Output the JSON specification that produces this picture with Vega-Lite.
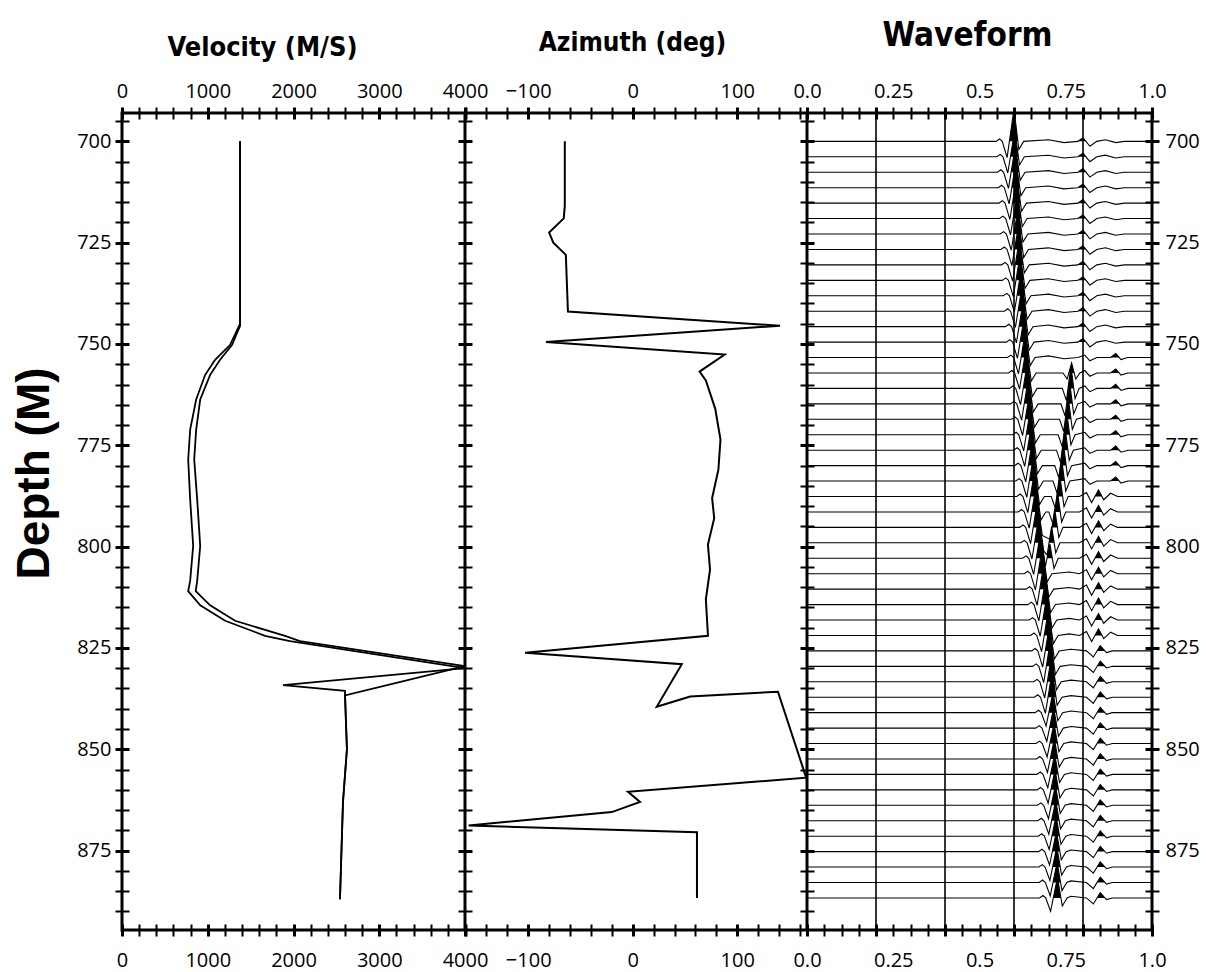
{
  "$schema": "https://vega.github.io/schema/vega-lite/v6.json",
  "width": 1030,
  "height": 817,
  "autosize": {"type": "none"},
  "padding": {"left": 122, "top": 113, "right": 54, "bottom": 42},
  "background": "white",
  "config": {
    "view": {"stroke": "black", "strokeWidth": 3},
    "axis": {
      "labelFont": "Open Sans",
      "labelFontSize": 20,
      "labelColor": "black",
      "tickColor": "black",
      "domainColor": "black",
      "titleColor": "black",
      "grid": false,
      "labelOverlap": false,
      "labelFlush": false
    }
  },
  "datasets": {
    "velocity": [
      {"c":"a","i":0,"v":1377,"z":700},{"c":"a","i":1,"v":1377,"z":745},{"c":"a","i":2,"v":1261,"z":750.2},{"c":"a","i":3,"v":1086,"z":753.9},{"c":"a","i":4,"v":970,"z":757.6},{"c":"a","i":5,"v":865,"z":763.7},{"c":"a","i":6,"v":795,"z":771.1},{"c":"a","i":7,"v":772,"z":778.5},{"c":"a","i":8,"v":795,"z":788.4},{"c":"a","i":9,"v":830,"z":799.8},{"c":"a","i":10,"v":795,"z":808.4},{"c":"a","i":11,"v":772,"z":811},{"c":"a","i":12,"v":912,"z":814.5},{"c":"a","i":13,"v":1203,"z":818.3},{"c":"a","i":14,"v":1668,"z":822},{"c":"a","i":15,"v":1959,"z":823.3},{"c":"a","i":16,"v":4000,"z":830},{"c":"a","i":17,"v":1878,"z":834.2},{"c":"a","i":18,"v":2600,"z":835.6},{"c":"a","i":19,"v":2623,"z":850},{"c":"a","i":20,"v":2577,"z":863},{"c":"a","i":21,"v":2542,"z":887},
      {"c":"b","i":0,"v":1377,"z":700},{"c":"b","i":1,"v":1377,"z":745.5},{"c":"b","i":2,"v":1284,"z":750.2},{"c":"b","i":3,"v":1144,"z":753.9},{"c":"b","i":4,"v":1028,"z":757.6},{"c":"b","i":5,"v":912,"z":763.7},{"c":"b","i":6,"v":865,"z":771.1},{"c":"b","i":7,"v":842,"z":778.5},{"c":"b","i":8,"v":877,"z":788.4},{"c":"b","i":9,"v":912,"z":799.8},{"c":"b","i":10,"v":877,"z":808.4},{"c":"b","i":11,"v":860,"z":811},{"c":"b","i":12,"v":1028,"z":814.5},{"c":"b","i":13,"v":1319,"z":818.3},{"c":"b","i":14,"v":1901,"z":822},{"c":"b","i":15,"v":2075,"z":823.3},{"c":"b","i":16,"v":4000,"z":829.5},{"c":"b","i":17,"v":2600,"z":836.7},{"c":"b","i":18,"v":2623,"z":850},{"c":"b","i":19,"v":2577,"z":863},{"c":"b","i":20,"v":2542,"z":887}
    ],
    "azimuth": [
      {"i":0,"a":-65,"z":700},{"i":1,"a":-65,"z":716},{"i":2,"a":-66,"z":719},{"i":3,"a":-80,"z":722.5},{"i":4,"a":-76,"z":725},{"i":5,"a":-64,"z":728},{"i":6,"a":-62,"z":742},{"i":7,"a":141,"z":745.5},{"i":8,"a":-83,"z":749.5},{"i":9,"a":88,"z":752.6},{"i":10,"a":64,"z":756.8},{"i":11,"a":70,"z":759},{"i":12,"a":79,"z":766},{"i":13,"a":84,"z":773.6},{"i":14,"a":82,"z":781},{"i":15,"a":76,"z":788},{"i":16,"a":78,"z":793},{"i":17,"a":72,"z":799.5},{"i":18,"a":74,"z":805.7},{"i":19,"a":70,"z":813},{"i":20,"a":72,"z":822},{"i":21,"a":-103,"z":826.2},{"i":22,"a":47,"z":829},{"i":23,"a":23,"z":839.5},{"i":24,"a":55,"z":837},{"i":25,"a":139,"z":835.8},{"i":26,"a":166,"z":857},{"i":27,"a":-4.5,"z":860.5},{"i":28,"a":7,"z":863},{"i":29,"a":-20,"z":865.5},{"i":30,"a":-157,"z":868.8},{"i":31,"a":61.5,"z":870.5},{"i":32,"a":61.5,"z":886.7}
    ],
    "traces": [
      {"n":0,"t":0,"d":700},{"n":0,"t":0.548,"d":700},{"n":0,"t":0.558,"d":699.4},{"n":0,"t":0.566,"d":700},{"n":0,"t":0.58,"d":704},{"n":0,"t":0.6,"d":692},{"n":0,"t":0.614,"d":702},{"n":0,"t":0.628,"d":700},{"n":0,"t":0.7,"d":699.6},{"n":0,"t":0.745,"d":700.3},{"n":0,"t":0.785,"d":700},{"n":0,"t":0.8,"d":699.1},{"n":0,"t":0.82,"d":701.2},{"n":0,"t":0.84,"d":700},{"n":0,"t":0.865,"d":699.6},{"n":0,"t":0.895,"d":700.3},{"n":0,"t":0.92,"d":700},{"n":0,"t":1,"d":700},
      {"n":1,"t":0,"d":703.81},{"n":1,"t":0.55,"d":703.81},{"n":1,"t":0.56,"d":703.21},{"n":1,"t":0.568,"d":703.81},{"n":1,"t":0.582,"d":707.81},{"n":1,"t":0.602,"d":697.31},{"n":1,"t":0.616,"d":705.81},{"n":1,"t":0.63,"d":703.81},{"n":1,"t":0.7,"d":703.41},{"n":1,"t":0.745,"d":704.11},{"n":1,"t":0.785,"d":703.81},{"n":1,"t":0.8,"d":702.91},{"n":1,"t":0.82,"d":705.01},{"n":1,"t":0.84,"d":703.81},{"n":1,"t":0.865,"d":703.41},{"n":1,"t":0.895,"d":704.11},{"n":1,"t":0.92,"d":703.81},{"n":1,"t":1,"d":703.81},
      {"n":2,"t":0,"d":707.62},{"n":2,"t":0.552,"d":707.62},{"n":2,"t":0.562,"d":707.02},{"n":2,"t":0.57,"d":707.62},{"n":2,"t":0.584,"d":711.62},{"n":2,"t":0.604,"d":701.12},{"n":2,"t":0.618,"d":709.62},{"n":2,"t":0.632,"d":707.62},{"n":2,"t":0.7,"d":707.22},{"n":2,"t":0.745,"d":707.92},{"n":2,"t":0.785,"d":707.62},{"n":2,"t":0.8,"d":706.72},{"n":2,"t":0.82,"d":708.82},{"n":2,"t":0.84,"d":707.62},{"n":2,"t":0.865,"d":707.22},{"n":2,"t":0.895,"d":707.92},{"n":2,"t":0.92,"d":707.62},{"n":2,"t":1,"d":707.62},
      {"n":3,"t":0,"d":711.43},{"n":3,"t":0.554,"d":711.43},{"n":3,"t":0.564,"d":710.83},{"n":3,"t":0.572,"d":711.43},{"n":3,"t":0.586,"d":715.43},{"n":3,"t":0.606,"d":704.93},{"n":3,"t":0.62,"d":713.43},{"n":3,"t":0.634,"d":711.43},{"n":3,"t":0.7,"d":711.03},{"n":3,"t":0.745,"d":711.73},{"n":3,"t":0.785,"d":711.43},{"n":3,"t":0.8,"d":710.53},{"n":3,"t":0.82,"d":712.63},{"n":3,"t":0.84,"d":711.43},{"n":3,"t":0.865,"d":711.03},{"n":3,"t":0.895,"d":711.73},{"n":3,"t":0.92,"d":711.43},{"n":3,"t":1,"d":711.43},
      {"n":4,"t":0,"d":715.24},{"n":4,"t":0.556,"d":715.24},{"n":4,"t":0.566,"d":714.64},{"n":4,"t":0.574,"d":715.24},{"n":4,"t":0.588,"d":719.24},{"n":4,"t":0.608,"d":708.74},{"n":4,"t":0.622,"d":717.24},{"n":4,"t":0.636,"d":715.24},{"n":4,"t":0.7,"d":714.84},{"n":4,"t":0.745,"d":715.54},{"n":4,"t":0.785,"d":715.24},{"n":4,"t":0.8,"d":714.34},{"n":4,"t":0.82,"d":716.44},{"n":4,"t":0.84,"d":715.24},{"n":4,"t":0.865,"d":714.84},{"n":4,"t":0.895,"d":715.54},{"n":4,"t":0.92,"d":715.24},{"n":4,"t":1,"d":715.24},
      {"n":5,"t":0,"d":719.05},{"n":5,"t":0.558,"d":719.05},{"n":5,"t":0.568,"d":718.45},{"n":5,"t":0.576,"d":719.05},{"n":5,"t":0.59,"d":723.05},{"n":5,"t":0.61,"d":712.55},{"n":5,"t":0.624,"d":721.05},{"n":5,"t":0.638,"d":719.05},{"n":5,"t":0.7,"d":718.65},{"n":5,"t":0.745,"d":719.35},{"n":5,"t":0.785,"d":719.05},{"n":5,"t":0.8,"d":718.15},{"n":5,"t":0.82,"d":720.25},{"n":5,"t":0.84,"d":719.05},{"n":5,"t":0.865,"d":718.65},{"n":5,"t":0.895,"d":719.35},{"n":5,"t":0.92,"d":719.05},{"n":5,"t":1,"d":719.05},
      {"n":6,"t":0,"d":722.86},{"n":6,"t":0.56,"d":722.86},{"n":6,"t":0.57,"d":722.26},{"n":6,"t":0.578,"d":722.86},{"n":6,"t":0.592,"d":726.86},{"n":6,"t":0.612,"d":716.36},{"n":6,"t":0.626,"d":724.86},{"n":6,"t":0.64,"d":722.86},{"n":6,"t":0.7,"d":722.46},{"n":6,"t":0.745,"d":723.16},{"n":6,"t":0.785,"d":722.86},{"n":6,"t":0.8,"d":721.96},{"n":6,"t":0.82,"d":724.06},{"n":6,"t":0.84,"d":722.86},{"n":6,"t":0.865,"d":722.46},{"n":6,"t":0.895,"d":723.16},{"n":6,"t":0.92,"d":722.86},{"n":6,"t":1,"d":722.86},
      {"n":7,"t":0,"d":726.67},{"n":7,"t":0.562,"d":726.67},{"n":7,"t":0.572,"d":726.07},{"n":7,"t":0.58,"d":726.67},{"n":7,"t":0.594,"d":730.67},{"n":7,"t":0.614,"d":720.17},{"n":7,"t":0.628,"d":728.67},{"n":7,"t":0.642,"d":726.67},{"n":7,"t":0.7,"d":726.27},{"n":7,"t":0.745,"d":726.97},{"n":7,"t":0.785,"d":726.67},{"n":7,"t":0.8,"d":725.77},{"n":7,"t":0.82,"d":727.87},{"n":7,"t":0.84,"d":726.67},{"n":7,"t":0.865,"d":726.27},{"n":7,"t":0.895,"d":726.97},{"n":7,"t":0.92,"d":726.67},{"n":7,"t":1,"d":726.67},
      {"n":8,"t":0,"d":730.48},{"n":8,"t":0.564,"d":730.48},{"n":8,"t":0.574,"d":729.88},{"n":8,"t":0.582,"d":730.48},{"n":8,"t":0.596,"d":734.48},{"n":8,"t":0.616,"d":723.98},{"n":8,"t":0.63,"d":732.48},{"n":8,"t":0.644,"d":730.48},{"n":8,"t":0.7,"d":730.08},{"n":8,"t":0.745,"d":730.78},{"n":8,"t":0.785,"d":730.48},{"n":8,"t":0.8,"d":729.58},{"n":8,"t":0.82,"d":731.68},{"n":8,"t":0.84,"d":730.48},{"n":8,"t":0.865,"d":730.08},{"n":8,"t":0.895,"d":730.78},{"n":8,"t":0.92,"d":730.48},{"n":8,"t":1,"d":730.48},
      {"n":9,"t":0,"d":734.29},{"n":9,"t":0.566,"d":734.29},{"n":9,"t":0.576,"d":733.69},{"n":9,"t":0.584,"d":734.29},{"n":9,"t":0.598,"d":738.29},{"n":9,"t":0.618,"d":727.79},{"n":9,"t":0.632,"d":736.29},{"n":9,"t":0.646,"d":734.29},{"n":9,"t":0.7,"d":733.89},{"n":9,"t":0.745,"d":734.59},{"n":9,"t":0.785,"d":734.29},{"n":9,"t":0.8,"d":733.39},{"n":9,"t":0.82,"d":735.49},{"n":9,"t":0.84,"d":734.29},{"n":9,"t":0.865,"d":733.89},{"n":9,"t":0.895,"d":734.59},{"n":9,"t":0.92,"d":734.29},{"n":9,"t":1,"d":734.29},
      {"n":10,"t":0,"d":738.1},{"n":10,"t":0.569,"d":738.1},{"n":10,"t":0.579,"d":737.5},{"n":10,"t":0.587,"d":738.1},{"n":10,"t":0.601,"d":742.1},{"n":10,"t":0.621,"d":731.6},{"n":10,"t":0.635,"d":740.1},{"n":10,"t":0.649,"d":738.1},{"n":10,"t":0.7,"d":737.7},{"n":10,"t":0.745,"d":738.4},{"n":10,"t":0.785,"d":738.1},{"n":10,"t":0.8,"d":737.2},{"n":10,"t":0.82,"d":739.3},{"n":10,"t":0.84,"d":738.1},{"n":10,"t":0.865,"d":737.7},{"n":10,"t":0.895,"d":738.4},{"n":10,"t":0.92,"d":738.1},{"n":10,"t":1,"d":738.1},
      {"n":11,"t":0,"d":741.91},{"n":11,"t":0.572,"d":741.91},{"n":11,"t":0.582,"d":741.31},{"n":11,"t":0.59,"d":741.91},{"n":11,"t":0.604,"d":745.91},{"n":11,"t":0.624,"d":735.41},{"n":11,"t":0.638,"d":743.91},{"n":11,"t":0.652,"d":741.91},{"n":11,"t":0.7,"d":741.51},{"n":11,"t":0.745,"d":742.21},{"n":11,"t":0.785,"d":741.91},{"n":11,"t":0.8,"d":741.01},{"n":11,"t":0.82,"d":743.11},{"n":11,"t":0.84,"d":741.91},{"n":11,"t":0.865,"d":741.51},{"n":11,"t":0.895,"d":742.21},{"n":11,"t":0.92,"d":741.91},{"n":11,"t":1,"d":741.91},
      {"n":12,"t":0,"d":745.72},{"n":12,"t":0.575,"d":745.72},{"n":12,"t":0.585,"d":745.12},{"n":12,"t":0.593,"d":745.72},{"n":12,"t":0.607,"d":749.72},{"n":12,"t":0.627,"d":739.22},{"n":12,"t":0.641,"d":747.72},{"n":12,"t":0.655,"d":745.72},{"n":12,"t":0.7,"d":745.32},{"n":12,"t":0.745,"d":746.02},{"n":12,"t":0.785,"d":745.72},{"n":12,"t":0.8,"d":744.82},{"n":12,"t":0.82,"d":746.92},{"n":12,"t":0.84,"d":745.72},{"n":12,"t":0.865,"d":745.32},{"n":12,"t":0.895,"d":746.02},{"n":12,"t":0.92,"d":745.72},{"n":12,"t":1,"d":745.72},
      {"n":13,"t":0,"d":749.53},{"n":13,"t":0.578,"d":749.53},{"n":13,"t":0.588,"d":748.93},{"n":13,"t":0.596,"d":749.53},{"n":13,"t":0.61,"d":753.53},{"n":13,"t":0.63,"d":743.03},{"n":13,"t":0.644,"d":751.53},{"n":13,"t":0.658,"d":749.53},{"n":13,"t":0.7,"d":749.13},{"n":13,"t":0.745,"d":749.83},{"n":13,"t":0.785,"d":749.53},{"n":13,"t":0.8,"d":748.63},{"n":13,"t":0.82,"d":750.73},{"n":13,"t":0.84,"d":749.53},{"n":13,"t":0.865,"d":749.13},{"n":13,"t":0.895,"d":749.83},{"n":13,"t":0.92,"d":749.53},{"n":13,"t":1,"d":749.53},
      {"n":14,"t":0,"d":753.34},{"n":14,"t":0.581,"d":753.34},{"n":14,"t":0.591,"d":752.74},{"n":14,"t":0.599,"d":753.34},{"n":14,"t":0.613,"d":757.34},{"n":14,"t":0.633,"d":746.84},{"n":14,"t":0.647,"d":755.34},{"n":14,"t":0.661,"d":753.34},{"n":14,"t":0.7,"d":752.94},{"n":14,"t":0.745,"d":753.64},{"n":14,"t":0.785,"d":753.34},{"n":14,"t":0.805,"d":752.74},{"n":14,"t":0.82,"d":754.14},{"n":14,"t":0.84,"d":753.34},{"n":14,"t":0.88,"d":753.34},{"n":14,"t":0.895,"d":752.34},{"n":14,"t":0.91,"d":753.84},{"n":14,"t":0.93,"d":753.34},{"n":14,"t":1,"d":753.34},
      {"n":15,"t":0,"d":757.15},{"n":15,"t":0.584,"d":757.15},{"n":15,"t":0.594,"d":756.55},{"n":15,"t":0.602,"d":757.15},{"n":15,"t":0.616,"d":761.15},{"n":15,"t":0.636,"d":750.65},{"n":15,"t":0.65,"d":759.15},{"n":15,"t":0.664,"d":757.15},{"n":15,"t":0.742,"d":757.15},{"n":15,"t":0.754,"d":758.65},{"n":15,"t":0.767,"d":754.65},{"n":15,"t":0.779,"d":758.65},{"n":15,"t":0.791,"d":757.15},{"n":15,"t":0.805,"d":756.55},{"n":15,"t":0.82,"d":757.95},{"n":15,"t":0.84,"d":757.15},{"n":15,"t":0.88,"d":757.15},{"n":15,"t":0.895,"d":756.15},{"n":15,"t":0.91,"d":757.65},{"n":15,"t":0.93,"d":757.15},{"n":15,"t":1,"d":757.15},
      {"n":16,"t":0,"d":760.96},{"n":16,"t":0.587,"d":760.96},{"n":16,"t":0.597,"d":760.36},{"n":16,"t":0.605,"d":760.96},{"n":16,"t":0.619,"d":764.96},{"n":16,"t":0.639,"d":754.46},{"n":16,"t":0.653,"d":762.96},{"n":16,"t":0.667,"d":760.96},{"n":16,"t":0.74,"d":760.96},{"n":16,"t":0.752,"d":763.96},{"n":16,"t":0.765,"d":755.46},{"n":16,"t":0.777,"d":763.46},{"n":16,"t":0.789,"d":760.96},{"n":16,"t":0.805,"d":760.36},{"n":16,"t":0.82,"d":761.76},{"n":16,"t":0.84,"d":760.96},{"n":16,"t":0.88,"d":760.96},{"n":16,"t":0.895,"d":759.96},{"n":16,"t":0.91,"d":761.46},{"n":16,"t":0.93,"d":760.96},{"n":16,"t":1,"d":760.96},
      {"n":17,"t":0,"d":764.77},{"n":17,"t":0.59,"d":764.77},{"n":17,"t":0.6,"d":764.17},{"n":17,"t":0.608,"d":764.77},{"n":17,"t":0.622,"d":768.77},{"n":17,"t":0.642,"d":758.27},{"n":17,"t":0.656,"d":766.77},{"n":17,"t":0.67,"d":764.77},{"n":17,"t":0.736,"d":764.77},{"n":17,"t":0.748,"d":767.77},{"n":17,"t":0.761,"d":759.27},{"n":17,"t":0.773,"d":767.27},{"n":17,"t":0.785,"d":764.77},{"n":17,"t":0.805,"d":764.17},{"n":17,"t":0.82,"d":765.57},{"n":17,"t":0.84,"d":764.77},{"n":17,"t":0.88,"d":764.77},{"n":17,"t":0.895,"d":763.77},{"n":17,"t":0.91,"d":765.27},{"n":17,"t":0.93,"d":764.77},{"n":17,"t":1,"d":764.77},
      {"n":18,"t":0,"d":768.58},{"n":18,"t":0.593,"d":768.58},{"n":18,"t":0.603,"d":767.98},{"n":18,"t":0.611,"d":768.58},{"n":18,"t":0.625,"d":772.58},{"n":18,"t":0.645,"d":762.08},{"n":18,"t":0.659,"d":770.58},{"n":18,"t":0.673,"d":768.58},{"n":18,"t":0.732,"d":768.58},{"n":18,"t":0.744,"d":771.58},{"n":18,"t":0.757,"d":763.08},{"n":18,"t":0.769,"d":771.08},{"n":18,"t":0.781,"d":768.58},{"n":18,"t":0.805,"d":767.98},{"n":18,"t":0.82,"d":769.38},{"n":18,"t":0.84,"d":768.58},{"n":18,"t":0.88,"d":768.58},{"n":18,"t":0.895,"d":767.58},{"n":18,"t":0.91,"d":769.08},{"n":18,"t":0.93,"d":768.58},{"n":18,"t":1,"d":768.58},
      {"n":19,"t":0,"d":772.39},{"n":19,"t":0.596,"d":772.39},{"n":19,"t":0.606,"d":771.79},{"n":19,"t":0.614,"d":772.39},{"n":19,"t":0.628,"d":776.39},{"n":19,"t":0.648,"d":765.89},{"n":19,"t":0.662,"d":774.39},{"n":19,"t":0.676,"d":772.39},{"n":19,"t":0.728,"d":772.39},{"n":19,"t":0.74,"d":775.39},{"n":19,"t":0.753,"d":766.89},{"n":19,"t":0.765,"d":774.89},{"n":19,"t":0.777,"d":772.39},{"n":19,"t":0.805,"d":771.79},{"n":19,"t":0.82,"d":773.19},{"n":19,"t":0.84,"d":772.39},{"n":19,"t":0.88,"d":772.39},{"n":19,"t":0.895,"d":771.39},{"n":19,"t":0.91,"d":772.89},{"n":19,"t":0.93,"d":772.39},{"n":19,"t":1,"d":772.39},
      {"n":20,"t":0,"d":776.2},{"n":20,"t":0.599,"d":776.2},{"n":20,"t":0.609,"d":775.6},{"n":20,"t":0.617,"d":776.2},{"n":20,"t":0.631,"d":780.2},{"n":20,"t":0.651,"d":769.7},{"n":20,"t":0.665,"d":778.2},{"n":20,"t":0.679,"d":776.2},{"n":20,"t":0.723,"d":776.2},{"n":20,"t":0.735,"d":779.2},{"n":20,"t":0.748,"d":770.7},{"n":20,"t":0.76,"d":778.7},{"n":20,"t":0.772,"d":776.2},{"n":20,"t":0.805,"d":775.6},{"n":20,"t":0.82,"d":777},{"n":20,"t":0.84,"d":776.2},{"n":20,"t":0.88,"d":776.2},{"n":20,"t":0.895,"d":775.2},{"n":20,"t":0.91,"d":776.7},{"n":20,"t":0.93,"d":776.2},{"n":20,"t":1,"d":776.2},
      {"n":21,"t":0,"d":780.01},{"n":21,"t":0.602,"d":780.01},{"n":21,"t":0.612,"d":779.41},{"n":21,"t":0.62,"d":780.01},{"n":21,"t":0.634,"d":784.01},{"n":21,"t":0.654,"d":773.51},{"n":21,"t":0.668,"d":782.01},{"n":21,"t":0.682,"d":780.01},{"n":21,"t":0.718,"d":780.01},{"n":21,"t":0.73,"d":783.01},{"n":21,"t":0.743,"d":774.51},{"n":21,"t":0.755,"d":782.51},{"n":21,"t":0.767,"d":780.01},{"n":21,"t":0.805,"d":779.41},{"n":21,"t":0.82,"d":780.81},{"n":21,"t":0.84,"d":780.01},{"n":21,"t":0.88,"d":780.01},{"n":21,"t":0.895,"d":779.01},{"n":21,"t":0.91,"d":780.51},{"n":21,"t":0.93,"d":780.01},{"n":21,"t":1,"d":780.01},
      {"n":22,"t":0,"d":783.82},{"n":22,"t":0.605,"d":783.82},{"n":22,"t":0.615,"d":783.22},{"n":22,"t":0.623,"d":783.82},{"n":22,"t":0.637,"d":787.82},{"n":22,"t":0.657,"d":777.32},{"n":22,"t":0.671,"d":785.82},{"n":22,"t":0.685,"d":783.82},{"n":22,"t":0.713,"d":783.82},{"n":22,"t":0.725,"d":786.82},{"n":22,"t":0.738,"d":778.32},{"n":22,"t":0.75,"d":786.32},{"n":22,"t":0.762,"d":783.82},{"n":22,"t":0.805,"d":783.22},{"n":22,"t":0.82,"d":784.62},{"n":22,"t":0.84,"d":783.82},{"n":22,"t":0.88,"d":783.82},{"n":22,"t":0.895,"d":782.82},{"n":22,"t":0.91,"d":784.32},{"n":22,"t":0.93,"d":783.82},{"n":22,"t":1,"d":783.82},
      {"n":23,"t":0,"d":787.63},{"n":23,"t":0.608,"d":787.63},{"n":23,"t":0.618,"d":787.03},{"n":23,"t":0.626,"d":787.63},{"n":23,"t":0.64,"d":791.63},{"n":23,"t":0.66,"d":781.13},{"n":23,"t":0.674,"d":789.63},{"n":23,"t":0.688,"d":787.63},{"n":23,"t":0.708,"d":787.63},{"n":23,"t":0.72,"d":790.63},{"n":23,"t":0.733,"d":782.63},{"n":23,"t":0.745,"d":790.13},{"n":23,"t":0.757,"d":787.63},{"n":23,"t":0.79,"d":787.63},{"n":23,"t":0.81,"d":786.63},{"n":23,"t":0.825,"d":789.13},{"n":23,"t":0.845,"d":786.03},{"n":23,"t":0.86,"d":788.43},{"n":23,"t":0.88,"d":786.83},{"n":23,"t":0.9,"d":787.63},{"n":23,"t":1,"d":787.63},
      {"n":24,"t":0,"d":791.44},{"n":24,"t":0.612,"d":791.44},{"n":24,"t":0.622,"d":790.84},{"n":24,"t":0.63,"d":791.44},{"n":24,"t":0.644,"d":795.44},{"n":24,"t":0.664,"d":784.94},{"n":24,"t":0.678,"d":793.44},{"n":24,"t":0.692,"d":791.44},{"n":24,"t":0.701,"d":791.44},{"n":24,"t":0.713,"d":794.44},{"n":24,"t":0.726,"d":786.44},{"n":24,"t":0.738,"d":793.94},{"n":24,"t":0.75,"d":791.44},{"n":24,"t":0.79,"d":791.44},{"n":24,"t":0.81,"d":790.44},{"n":24,"t":0.825,"d":792.94},{"n":24,"t":0.845,"d":789.84},{"n":24,"t":0.86,"d":792.24},{"n":24,"t":0.88,"d":790.64},{"n":24,"t":0.9,"d":791.44},{"n":24,"t":1,"d":791.44},
      {"n":25,"t":0,"d":795.25},{"n":25,"t":0.616,"d":795.25},{"n":25,"t":0.626,"d":794.65},{"n":25,"t":0.634,"d":795.25},{"n":25,"t":0.648,"d":799.25},{"n":25,"t":0.668,"d":788.75},{"n":25,"t":0.682,"d":797.25},{"n":25,"t":0.705,"d":798.25},{"n":25,"t":0.718,"d":790.75},{"n":25,"t":0.73,"d":797.75},{"n":25,"t":0.742,"d":795.25},{"n":25,"t":0.79,"d":795.25},{"n":25,"t":0.81,"d":794.25},{"n":25,"t":0.825,"d":796.75},{"n":25,"t":0.845,"d":793.65},{"n":25,"t":0.86,"d":796.05},{"n":25,"t":0.88,"d":794.45},{"n":25,"t":0.9,"d":795.25},{"n":25,"t":1,"d":795.25},
      {"n":26,"t":0,"d":799.06},{"n":26,"t":0.62,"d":799.06},{"n":26,"t":0.63,"d":798.46},{"n":26,"t":0.638,"d":799.06},{"n":26,"t":0.652,"d":803.06},{"n":26,"t":0.672,"d":792.56},{"n":26,"t":0.686,"d":801.06},{"n":26,"t":0.696,"d":802.06},{"n":26,"t":0.709,"d":795.06},{"n":26,"t":0.721,"d":801.56},{"n":26,"t":0.733,"d":799.06},{"n":26,"t":0.79,"d":799.06},{"n":26,"t":0.81,"d":798.06},{"n":26,"t":0.825,"d":800.56},{"n":26,"t":0.845,"d":797.46},{"n":26,"t":0.86,"d":799.86},{"n":26,"t":0.88,"d":798.26},{"n":26,"t":0.9,"d":799.06},{"n":26,"t":1,"d":799.06},
      {"n":27,"t":0,"d":802.87},{"n":27,"t":0.625,"d":802.87},{"n":27,"t":0.635,"d":802.27},{"n":27,"t":0.643,"d":802.87},{"n":27,"t":0.657,"d":806.87},{"n":27,"t":0.677,"d":796.37},{"n":27,"t":0.691,"d":804.87},{"n":27,"t":0.704,"d":799.37},{"n":27,"t":0.716,"d":805.37},{"n":27,"t":0.728,"d":802.87},{"n":27,"t":0.79,"d":802.87},{"n":27,"t":0.81,"d":801.87},{"n":27,"t":0.825,"d":804.37},{"n":27,"t":0.845,"d":801.27},{"n":27,"t":0.86,"d":803.67},{"n":27,"t":0.88,"d":802.07},{"n":27,"t":0.9,"d":802.87},{"n":27,"t":1,"d":802.87},
      {"n":28,"t":0,"d":806.68},{"n":28,"t":0.63,"d":806.68},{"n":28,"t":0.64,"d":806.08},{"n":28,"t":0.648,"d":806.68},{"n":28,"t":0.662,"d":810.68},{"n":28,"t":0.682,"d":800.18},{"n":28,"t":0.696,"d":808.68},{"n":28,"t":0.71,"d":806.68},{"n":28,"t":0.76,"d":806.28},{"n":28,"t":0.79,"d":806.68},{"n":28,"t":0.81,"d":805.68},{"n":28,"t":0.825,"d":808.18},{"n":28,"t":0.845,"d":805.08},{"n":28,"t":0.86,"d":807.48},{"n":28,"t":0.88,"d":805.88},{"n":28,"t":0.9,"d":806.68},{"n":28,"t":1,"d":806.68},
      {"n":29,"t":0,"d":810.49},{"n":29,"t":0.635,"d":810.49},{"n":29,"t":0.645,"d":809.89},{"n":29,"t":0.653,"d":810.49},{"n":29,"t":0.667,"d":814.49},{"n":29,"t":0.687,"d":803.99},{"n":29,"t":0.701,"d":812.49},{"n":29,"t":0.715,"d":810.49},{"n":29,"t":0.76,"d":810.09},{"n":29,"t":0.79,"d":810.49},{"n":29,"t":0.81,"d":809.49},{"n":29,"t":0.825,"d":811.99},{"n":29,"t":0.845,"d":808.89},{"n":29,"t":0.86,"d":811.29},{"n":29,"t":0.88,"d":809.69},{"n":29,"t":0.9,"d":810.49},{"n":29,"t":1,"d":810.49},
      {"n":30,"t":0,"d":814.3},{"n":30,"t":0.64,"d":814.3},{"n":30,"t":0.65,"d":813.7},{"n":30,"t":0.658,"d":814.3},{"n":30,"t":0.672,"d":818.3},{"n":30,"t":0.692,"d":807.8},{"n":30,"t":0.706,"d":816.3},{"n":30,"t":0.72,"d":814.3},{"n":30,"t":0.76,"d":813.9},{"n":30,"t":0.79,"d":814.3},{"n":30,"t":0.81,"d":813.3},{"n":30,"t":0.825,"d":815.8},{"n":30,"t":0.845,"d":812.7},{"n":30,"t":0.86,"d":815.1},{"n":30,"t":0.88,"d":813.5},{"n":30,"t":0.9,"d":814.3},{"n":30,"t":1,"d":814.3},
      {"n":31,"t":0,"d":818.11},{"n":31,"t":0.644,"d":818.11},{"n":31,"t":0.654,"d":817.51},{"n":31,"t":0.662,"d":818.11},{"n":31,"t":0.676,"d":822.11},{"n":31,"t":0.696,"d":811.61},{"n":31,"t":0.71,"d":820.11},{"n":31,"t":0.724,"d":818.11},{"n":31,"t":0.76,"d":817.71},{"n":31,"t":0.79,"d":818.11},{"n":31,"t":0.81,"d":817.11},{"n":31,"t":0.825,"d":819.61},{"n":31,"t":0.845,"d":816.51},{"n":31,"t":0.86,"d":818.91},{"n":31,"t":0.88,"d":817.31},{"n":31,"t":0.9,"d":818.11},{"n":31,"t":1,"d":818.11},
      {"n":32,"t":0,"d":821.92},{"n":32,"t":0.648,"d":821.92},{"n":32,"t":0.658,"d":821.32},{"n":32,"t":0.666,"d":821.92},{"n":32,"t":0.68,"d":825.92},{"n":32,"t":0.7,"d":815.42},{"n":32,"t":0.714,"d":823.92},{"n":32,"t":0.728,"d":821.92},{"n":32,"t":0.76,"d":821.52},{"n":32,"t":0.79,"d":821.92},{"n":32,"t":0.81,"d":820.92},{"n":32,"t":0.825,"d":823.42},{"n":32,"t":0.845,"d":820.32},{"n":32,"t":0.86,"d":822.72},{"n":32,"t":0.88,"d":821.12},{"n":32,"t":0.9,"d":821.92},{"n":32,"t":1,"d":821.92},
      {"n":33,"t":0,"d":825.73},{"n":33,"t":0.651,"d":825.73},{"n":33,"t":0.661,"d":825.13},{"n":33,"t":0.669,"d":825.73},{"n":33,"t":0.683,"d":829.73},{"n":33,"t":0.703,"d":819.23},{"n":33,"t":0.717,"d":827.73},{"n":33,"t":0.731,"d":825.73},{"n":33,"t":0.765,"d":825.33},{"n":33,"t":0.81,"d":825.73},{"n":33,"t":0.83,"d":827.23},{"n":33,"t":0.85,"d":824.43},{"n":33,"t":0.868,"d":826.13},{"n":33,"t":0.885,"d":825.73},{"n":33,"t":1,"d":825.73},
      {"n":34,"t":0,"d":829.54},{"n":34,"t":0.654,"d":829.54},{"n":34,"t":0.664,"d":828.94},{"n":34,"t":0.672,"d":829.54},{"n":34,"t":0.686,"d":833.54},{"n":34,"t":0.706,"d":823.04},{"n":34,"t":0.72,"d":831.54},{"n":34,"t":0.734,"d":829.54},{"n":34,"t":0.765,"d":829.14},{"n":34,"t":0.81,"d":829.54},{"n":34,"t":0.83,"d":831.04},{"n":34,"t":0.85,"d":828.24},{"n":34,"t":0.868,"d":829.94},{"n":34,"t":0.885,"d":829.54},{"n":34,"t":1,"d":829.54},
      {"n":35,"t":0,"d":833.35},{"n":35,"t":0.657,"d":833.35},{"n":35,"t":0.667,"d":832.75},{"n":35,"t":0.675,"d":833.35},{"n":35,"t":0.689,"d":837.35},{"n":35,"t":0.709,"d":826.85},{"n":35,"t":0.723,"d":835.35},{"n":35,"t":0.737,"d":833.35},{"n":35,"t":0.765,"d":832.95},{"n":35,"t":0.81,"d":833.35},{"n":35,"t":0.83,"d":834.85},{"n":35,"t":0.85,"d":832.05},{"n":35,"t":0.868,"d":833.75},{"n":35,"t":0.885,"d":833.35},{"n":35,"t":1,"d":833.35},
      {"n":36,"t":0,"d":837.16},{"n":36,"t":0.659,"d":837.16},{"n":36,"t":0.669,"d":836.56},{"n":36,"t":0.677,"d":837.16},{"n":36,"t":0.691,"d":841.16},{"n":36,"t":0.711,"d":830.66},{"n":36,"t":0.725,"d":839.16},{"n":36,"t":0.739,"d":837.16},{"n":36,"t":0.765,"d":836.76},{"n":36,"t":0.81,"d":837.16},{"n":36,"t":0.83,"d":838.66},{"n":36,"t":0.85,"d":835.86},{"n":36,"t":0.868,"d":837.56},{"n":36,"t":0.885,"d":837.16},{"n":36,"t":1,"d":837.16},
      {"n":37,"t":0,"d":840.97},{"n":37,"t":0.661,"d":840.97},{"n":37,"t":0.671,"d":840.37},{"n":37,"t":0.679,"d":840.97},{"n":37,"t":0.693,"d":844.27},{"n":37,"t":0.713,"d":835.97},{"n":37,"t":0.727,"d":842.97},{"n":37,"t":0.741,"d":840.97},{"n":37,"t":0.765,"d":840.57},{"n":37,"t":0.81,"d":840.97},{"n":37,"t":0.83,"d":842.47},{"n":37,"t":0.85,"d":839.67},{"n":37,"t":0.868,"d":841.37},{"n":37,"t":0.885,"d":840.97},{"n":37,"t":1,"d":840.97},
      {"n":38,"t":0,"d":844.78},{"n":38,"t":0.663,"d":844.78},{"n":38,"t":0.673,"d":844.18},{"n":38,"t":0.681,"d":844.78},{"n":38,"t":0.695,"d":848.08},{"n":38,"t":0.715,"d":839.78},{"n":38,"t":0.729,"d":846.78},{"n":38,"t":0.743,"d":844.78},{"n":38,"t":0.765,"d":844.38},{"n":38,"t":0.81,"d":844.78},{"n":38,"t":0.83,"d":846.28},{"n":38,"t":0.85,"d":843.48},{"n":38,"t":0.868,"d":845.18},{"n":38,"t":0.885,"d":844.78},{"n":38,"t":1,"d":844.78},
      {"n":39,"t":0,"d":848.59},{"n":39,"t":0.664,"d":848.59},{"n":39,"t":0.674,"d":847.99},{"n":39,"t":0.682,"d":848.59},{"n":39,"t":0.696,"d":851.89},{"n":39,"t":0.716,"d":843.59},{"n":39,"t":0.73,"d":850.59},{"n":39,"t":0.744,"d":848.59},{"n":39,"t":0.765,"d":848.19},{"n":39,"t":0.81,"d":848.59},{"n":39,"t":0.83,"d":850.09},{"n":39,"t":0.85,"d":847.29},{"n":39,"t":0.868,"d":848.99},{"n":39,"t":0.885,"d":848.59},{"n":39,"t":1,"d":848.59},
      {"n":40,"t":0,"d":852.4},{"n":40,"t":0.665,"d":852.4},{"n":40,"t":0.675,"d":851.8},{"n":40,"t":0.683,"d":852.4},{"n":40,"t":0.697,"d":855.7},{"n":40,"t":0.717,"d":847.4},{"n":40,"t":0.731,"d":854.4},{"n":40,"t":0.745,"d":852.4},{"n":40,"t":0.765,"d":852},{"n":40,"t":0.81,"d":852.4},{"n":40,"t":0.83,"d":853.9},{"n":40,"t":0.85,"d":851.1},{"n":40,"t":0.868,"d":852.8},{"n":40,"t":0.885,"d":852.4},{"n":40,"t":1,"d":852.4},
      {"n":41,"t":0,"d":856.21},{"n":41,"t":0.666,"d":856.21},{"n":41,"t":0.676,"d":855.61},{"n":41,"t":0.684,"d":856.21},{"n":41,"t":0.698,"d":859.51},{"n":41,"t":0.718,"d":851.21},{"n":41,"t":0.732,"d":858.21},{"n":41,"t":0.746,"d":856.21},{"n":41,"t":0.765,"d":855.81},{"n":41,"t":0.81,"d":856.21},{"n":41,"t":0.83,"d":857.71},{"n":41,"t":0.85,"d":854.91},{"n":41,"t":0.868,"d":856.61},{"n":41,"t":0.885,"d":856.21},{"n":41,"t":1,"d":856.21},
      {"n":42,"t":0,"d":860.02},{"n":42,"t":0.667,"d":860.02},{"n":42,"t":0.677,"d":859.42},{"n":42,"t":0.685,"d":860.02},{"n":42,"t":0.699,"d":863.32},{"n":42,"t":0.719,"d":855.02},{"n":42,"t":0.733,"d":862.02},{"n":42,"t":0.747,"d":860.02},{"n":42,"t":0.765,"d":859.62},{"n":42,"t":0.81,"d":860.02},{"n":42,"t":0.83,"d":861.52},{"n":42,"t":0.85,"d":858.72},{"n":42,"t":0.868,"d":860.42},{"n":42,"t":0.885,"d":860.02},{"n":42,"t":1,"d":860.02},
      {"n":43,"t":0,"d":863.83},{"n":43,"t":0.668,"d":863.83},{"n":43,"t":0.678,"d":863.23},{"n":43,"t":0.686,"d":863.83},{"n":43,"t":0.7,"d":867.13},{"n":43,"t":0.72,"d":858.83},{"n":43,"t":0.734,"d":865.83},{"n":43,"t":0.748,"d":863.83},{"n":43,"t":0.765,"d":863.43},{"n":43,"t":0.81,"d":863.83},{"n":43,"t":0.83,"d":865.33},{"n":43,"t":0.85,"d":862.53},{"n":43,"t":0.868,"d":864.23},{"n":43,"t":0.885,"d":863.83},{"n":43,"t":1,"d":863.83},
      {"n":44,"t":0,"d":867.64},{"n":44,"t":0.669,"d":867.64},{"n":44,"t":0.679,"d":867.04},{"n":44,"t":0.687,"d":867.64},{"n":44,"t":0.701,"d":870.94},{"n":44,"t":0.721,"d":862.64},{"n":44,"t":0.735,"d":869.64},{"n":44,"t":0.749,"d":867.64},{"n":44,"t":0.765,"d":867.24},{"n":44,"t":0.81,"d":867.64},{"n":44,"t":0.83,"d":869.14},{"n":44,"t":0.85,"d":866.34},{"n":44,"t":0.868,"d":868.04},{"n":44,"t":0.885,"d":867.64},{"n":44,"t":1,"d":867.64},
      {"n":45,"t":0,"d":871.45},{"n":45,"t":0.67,"d":871.45},{"n":45,"t":0.68,"d":870.85},{"n":45,"t":0.688,"d":871.45},{"n":45,"t":0.702,"d":874.75},{"n":45,"t":0.722,"d":866.45},{"n":45,"t":0.736,"d":873.45},{"n":45,"t":0.75,"d":871.45},{"n":45,"t":0.765,"d":871.05},{"n":45,"t":0.81,"d":871.45},{"n":45,"t":0.83,"d":872.95},{"n":45,"t":0.85,"d":870.15},{"n":45,"t":0.868,"d":871.85},{"n":45,"t":0.885,"d":871.45},{"n":45,"t":1,"d":871.45},
      {"n":46,"t":0,"d":875.26},{"n":46,"t":0.671,"d":875.26},{"n":46,"t":0.681,"d":874.66},{"n":46,"t":0.689,"d":875.26},{"n":46,"t":0.703,"d":878.56},{"n":46,"t":0.723,"d":870.26},{"n":46,"t":0.737,"d":877.26},{"n":46,"t":0.751,"d":875.26},{"n":46,"t":0.765,"d":874.86},{"n":46,"t":0.81,"d":875.26},{"n":46,"t":0.83,"d":876.76},{"n":46,"t":0.85,"d":873.96},{"n":46,"t":0.868,"d":875.66},{"n":46,"t":0.885,"d":875.26},{"n":46,"t":1,"d":875.26},
      {"n":47,"t":0,"d":879.07},{"n":47,"t":0.672,"d":879.07},{"n":47,"t":0.682,"d":878.47},{"n":47,"t":0.69,"d":879.07},{"n":47,"t":0.704,"d":882.37},{"n":47,"t":0.724,"d":874.07},{"n":47,"t":0.738,"d":881.07},{"n":47,"t":0.752,"d":879.07},{"n":47,"t":0.765,"d":878.67},{"n":47,"t":0.81,"d":879.07},{"n":47,"t":0.83,"d":880.57},{"n":47,"t":0.85,"d":877.77},{"n":47,"t":0.868,"d":879.47},{"n":47,"t":0.885,"d":879.07},{"n":47,"t":1,"d":879.07},
      {"n":48,"t":0,"d":882.88},{"n":48,"t":0.673,"d":882.88},{"n":48,"t":0.683,"d":882.28},{"n":48,"t":0.691,"d":882.88},{"n":48,"t":0.705,"d":886.18},{"n":48,"t":0.725,"d":877.88},{"n":48,"t":0.739,"d":884.88},{"n":48,"t":0.753,"d":882.88},{"n":48,"t":0.765,"d":882.48},{"n":48,"t":0.81,"d":882.88},{"n":48,"t":0.83,"d":884.38},{"n":48,"t":0.85,"d":881.58},{"n":48,"t":0.868,"d":883.28},{"n":48,"t":0.885,"d":882.88},{"n":48,"t":1,"d":882.88},
      {"n":49,"t":0,"d":886.69},{"n":49,"t":0.674,"d":886.69},{"n":49,"t":0.684,"d":886.09},{"n":49,"t":0.692,"d":886.69},{"n":49,"t":0.706,"d":889.99},{"n":49,"t":0.726,"d":881.69},{"n":49,"t":0.74,"d":888.69},{"n":49,"t":0.754,"d":886.69},{"n":49,"t":0.765,"d":886.29},{"n":49,"t":0.81,"d":886.69},{"n":49,"t":0.83,"d":888.19},{"n":49,"t":0.85,"d":885.39},{"n":49,"t":0.868,"d":887.09},{"n":49,"t":0.885,"d":886.69},{"n":49,"t":1,"d":886.69}
    ],
    "lobes": [
      {"n":0,"k":"m","t":0.587,"d":700,"b":700},{"n":0,"k":"m","t":0.6,"d":692,"b":700},{"n":0,"k":"m","t":0.611,"d":700,"b":700},
      {"n":1,"k":"m","t":0.59,"d":703.81,"b":703.81},{"n":1,"k":"m","t":0.602,"d":697.31,"b":703.81},{"n":1,"k":"m","t":0.613,"d":703.81,"b":703.81},
      {"n":2,"k":"m","t":0.592,"d":707.62,"b":707.62},{"n":2,"k":"m","t":0.604,"d":701.12,"b":707.62},{"n":2,"k":"m","t":0.615,"d":707.62,"b":707.62},
      {"n":3,"k":"m","t":0.594,"d":711.43,"b":711.43},{"n":3,"k":"m","t":0.606,"d":704.93,"b":711.43},{"n":3,"k":"m","t":0.617,"d":711.43,"b":711.43},
      {"n":4,"k":"m","t":0.596,"d":715.24,"b":715.24},{"n":4,"k":"m","t":0.608,"d":708.74,"b":715.24},{"n":4,"k":"m","t":0.619,"d":715.24,"b":715.24},
      {"n":5,"k":"m","t":0.598,"d":719.05,"b":719.05},{"n":5,"k":"m","t":0.61,"d":712.55,"b":719.05},{"n":5,"k":"m","t":0.621,"d":719.05,"b":719.05},
      {"n":6,"k":"m","t":0.6,"d":722.86,"b":722.86},{"n":6,"k":"m","t":0.612,"d":716.36,"b":722.86},{"n":6,"k":"m","t":0.623,"d":722.86,"b":722.86},
      {"n":7,"k":"m","t":0.602,"d":726.67,"b":726.67},{"n":7,"k":"m","t":0.614,"d":720.17,"b":726.67},{"n":7,"k":"m","t":0.625,"d":726.67,"b":726.67},
      {"n":8,"k":"m","t":0.604,"d":730.48,"b":730.48},{"n":8,"k":"m","t":0.616,"d":723.98,"b":730.48},{"n":8,"k":"m","t":0.627,"d":730.48,"b":730.48},
      {"n":9,"k":"m","t":0.606,"d":734.29,"b":734.29},{"n":9,"k":"m","t":0.618,"d":727.79,"b":734.29},{"n":9,"k":"m","t":0.629,"d":734.29,"b":734.29},
      {"n":10,"k":"m","t":0.609,"d":738.1,"b":738.1},{"n":10,"k":"m","t":0.621,"d":731.6,"b":738.1},{"n":10,"k":"m","t":0.632,"d":738.1,"b":738.1},
      {"n":11,"k":"m","t":0.612,"d":741.91,"b":741.91},{"n":11,"k":"m","t":0.624,"d":735.41,"b":741.91},{"n":11,"k":"m","t":0.635,"d":741.91,"b":741.91},
      {"n":12,"k":"m","t":0.615,"d":745.72,"b":745.72},{"n":12,"k":"m","t":0.627,"d":739.22,"b":745.72},{"n":12,"k":"m","t":0.638,"d":745.72,"b":745.72},
      {"n":13,"k":"m","t":0.618,"d":749.53,"b":749.53},{"n":13,"k":"m","t":0.63,"d":743.03,"b":749.53},{"n":13,"k":"m","t":0.641,"d":749.53,"b":749.53},
      {"n":14,"k":"m","t":0.621,"d":753.34,"b":753.34},{"n":14,"k":"m","t":0.633,"d":746.84,"b":753.34},{"n":14,"k":"m","t":0.644,"d":753.34,"b":753.34},
      {"n":15,"k":"m","t":0.624,"d":757.15,"b":757.15},{"n":15,"k":"m","t":0.636,"d":750.65,"b":757.15},{"n":15,"k":"m","t":0.647,"d":757.15,"b":757.15},
      {"n":16,"k":"m","t":0.627,"d":760.96,"b":760.96},{"n":16,"k":"m","t":0.639,"d":754.46,"b":760.96},{"n":16,"k":"m","t":0.65,"d":760.96,"b":760.96},
      {"n":17,"k":"m","t":0.63,"d":764.77,"b":764.77},{"n":17,"k":"m","t":0.642,"d":758.27,"b":764.77},{"n":17,"k":"m","t":0.653,"d":764.77,"b":764.77},
      {"n":18,"k":"m","t":0.633,"d":768.58,"b":768.58},{"n":18,"k":"m","t":0.645,"d":762.08,"b":768.58},{"n":18,"k":"m","t":0.656,"d":768.58,"b":768.58},
      {"n":19,"k":"m","t":0.636,"d":772.39,"b":772.39},{"n":19,"k":"m","t":0.648,"d":765.89,"b":772.39},{"n":19,"k":"m","t":0.659,"d":772.39,"b":772.39},
      {"n":20,"k":"m","t":0.639,"d":776.2,"b":776.2},{"n":20,"k":"m","t":0.651,"d":769.7,"b":776.2},{"n":20,"k":"m","t":0.662,"d":776.2,"b":776.2},
      {"n":21,"k":"m","t":0.642,"d":780.01,"b":780.01},{"n":21,"k":"m","t":0.654,"d":773.51,"b":780.01},{"n":21,"k":"m","t":0.665,"d":780.01,"b":780.01},
      {"n":22,"k":"m","t":0.645,"d":783.82,"b":783.82},{"n":22,"k":"m","t":0.657,"d":777.32,"b":783.82},{"n":22,"k":"m","t":0.668,"d":783.82,"b":783.82},
      {"n":23,"k":"m","t":0.648,"d":787.63,"b":787.63},{"n":23,"k":"m","t":0.66,"d":781.13,"b":787.63},{"n":23,"k":"m","t":0.671,"d":787.63,"b":787.63},
      {"n":24,"k":"m","t":0.652,"d":791.44,"b":791.44},{"n":24,"k":"m","t":0.664,"d":784.94,"b":791.44},{"n":24,"k":"m","t":0.675,"d":791.44,"b":791.44},
      {"n":25,"k":"m","t":0.656,"d":795.25,"b":795.25},{"n":25,"k":"m","t":0.668,"d":788.75,"b":795.25},{"n":25,"k":"m","t":0.679,"d":795.25,"b":795.25},
      {"n":26,"k":"m","t":0.66,"d":799.06,"b":799.06},{"n":26,"k":"m","t":0.672,"d":792.56,"b":799.06},{"n":26,"k":"m","t":0.683,"d":799.06,"b":799.06},
      {"n":27,"k":"m","t":0.665,"d":802.87,"b":802.87},{"n":27,"k":"m","t":0.677,"d":796.37,"b":802.87},{"n":27,"k":"m","t":0.688,"d":802.87,"b":802.87},
      {"n":28,"k":"m","t":0.67,"d":806.68,"b":806.68},{"n":28,"k":"m","t":0.682,"d":800.18,"b":806.68},{"n":28,"k":"m","t":0.693,"d":806.68,"b":806.68},
      {"n":29,"k":"m","t":0.675,"d":810.49,"b":810.49},{"n":29,"k":"m","t":0.687,"d":803.99,"b":810.49},{"n":29,"k":"m","t":0.698,"d":810.49,"b":810.49},
      {"n":30,"k":"m","t":0.68,"d":814.3,"b":814.3},{"n":30,"k":"m","t":0.692,"d":807.8,"b":814.3},{"n":30,"k":"m","t":0.703,"d":814.3,"b":814.3},
      {"n":31,"k":"m","t":0.684,"d":818.11,"b":818.11},{"n":31,"k":"m","t":0.696,"d":811.61,"b":818.11},{"n":31,"k":"m","t":0.707,"d":818.11,"b":818.11},
      {"n":32,"k":"m","t":0.688,"d":821.92,"b":821.92},{"n":32,"k":"m","t":0.7,"d":815.42,"b":821.92},{"n":32,"k":"m","t":0.711,"d":821.92,"b":821.92},
      {"n":33,"k":"m","t":0.691,"d":825.73,"b":825.73},{"n":33,"k":"m","t":0.703,"d":819.23,"b":825.73},{"n":33,"k":"m","t":0.714,"d":825.73,"b":825.73},
      {"n":34,"k":"m","t":0.694,"d":829.54,"b":829.54},{"n":34,"k":"m","t":0.706,"d":823.04,"b":829.54},{"n":34,"k":"m","t":0.717,"d":829.54,"b":829.54},
      {"n":35,"k":"m","t":0.697,"d":833.35,"b":833.35},{"n":35,"k":"m","t":0.709,"d":826.85,"b":833.35},{"n":35,"k":"m","t":0.72,"d":833.35,"b":833.35},
      {"n":36,"k":"m","t":0.699,"d":837.16,"b":837.16},{"n":36,"k":"m","t":0.711,"d":830.66,"b":837.16},{"n":36,"k":"m","t":0.722,"d":837.16,"b":837.16},
      {"n":37,"k":"m","t":0.701,"d":840.97,"b":840.97},{"n":37,"k":"m","t":0.713,"d":835.97,"b":840.97},{"n":37,"k":"m","t":0.723,"d":840.97,"b":840.97},
      {"n":38,"k":"m","t":0.703,"d":844.78,"b":844.78},{"n":38,"k":"m","t":0.715,"d":839.78,"b":844.78},{"n":38,"k":"m","t":0.725,"d":844.78,"b":844.78},
      {"n":39,"k":"m","t":0.704,"d":848.59,"b":848.59},{"n":39,"k":"m","t":0.716,"d":843.59,"b":848.59},{"n":39,"k":"m","t":0.726,"d":848.59,"b":848.59},
      {"n":40,"k":"m","t":0.705,"d":852.4,"b":852.4},{"n":40,"k":"m","t":0.717,"d":847.4,"b":852.4},{"n":40,"k":"m","t":0.727,"d":852.4,"b":852.4},
      {"n":41,"k":"m","t":0.706,"d":856.21,"b":856.21},{"n":41,"k":"m","t":0.718,"d":851.21,"b":856.21},{"n":41,"k":"m","t":0.728,"d":856.21,"b":856.21},
      {"n":42,"k":"m","t":0.707,"d":860.02,"b":860.02},{"n":42,"k":"m","t":0.719,"d":855.02,"b":860.02},{"n":42,"k":"m","t":0.729,"d":860.02,"b":860.02},
      {"n":43,"k":"m","t":0.708,"d":863.83,"b":863.83},{"n":43,"k":"m","t":0.72,"d":858.83,"b":863.83},{"n":43,"k":"m","t":0.73,"d":863.83,"b":863.83},
      {"n":44,"k":"m","t":0.709,"d":867.64,"b":867.64},{"n":44,"k":"m","t":0.721,"d":862.64,"b":867.64},{"n":44,"k":"m","t":0.731,"d":867.64,"b":867.64},
      {"n":45,"k":"m","t":0.71,"d":871.45,"b":871.45},{"n":45,"k":"m","t":0.722,"d":866.45,"b":871.45},{"n":45,"k":"m","t":0.732,"d":871.45,"b":871.45},
      {"n":46,"k":"m","t":0.711,"d":875.26,"b":875.26},{"n":46,"k":"m","t":0.723,"d":870.26,"b":875.26},{"n":46,"k":"m","t":0.733,"d":875.26,"b":875.26},
      {"n":47,"k":"m","t":0.712,"d":879.07,"b":879.07},{"n":47,"k":"m","t":0.724,"d":874.07,"b":879.07},{"n":47,"k":"m","t":0.734,"d":879.07,"b":879.07},
      {"n":48,"k":"m","t":0.713,"d":882.88,"b":882.88},{"n":48,"k":"m","t":0.725,"d":877.88,"b":882.88},{"n":48,"k":"m","t":0.735,"d":882.88,"b":882.88},
      {"n":49,"k":"m","t":0.714,"d":886.69,"b":886.69},{"n":49,"k":"m","t":0.726,"d":881.69,"b":886.69},{"n":49,"k":"m","t":0.736,"d":886.69,"b":886.69},
      {"n":15,"k":"s","t":0.759,"d":757.15,"b":757.15},{"n":15,"k":"s","t":0.767,"d":754.65,"b":757.15},{"n":15,"k":"s","t":0.775,"d":757.15,"b":757.15},
      {"n":16,"k":"s","t":0.757,"d":760.96,"b":760.96},{"n":16,"k":"s","t":0.765,"d":755.46,"b":760.96},{"n":16,"k":"s","t":0.773,"d":760.96,"b":760.96},
      {"n":17,"k":"s","t":0.753,"d":764.77,"b":764.77},{"n":17,"k":"s","t":0.761,"d":759.27,"b":764.77},{"n":17,"k":"s","t":0.769,"d":764.77,"b":764.77},
      {"n":18,"k":"s","t":0.749,"d":768.58,"b":768.58},{"n":18,"k":"s","t":0.757,"d":763.08,"b":768.58},{"n":18,"k":"s","t":0.765,"d":768.58,"b":768.58},
      {"n":19,"k":"s","t":0.745,"d":772.39,"b":772.39},{"n":19,"k":"s","t":0.753,"d":766.89,"b":772.39},{"n":19,"k":"s","t":0.761,"d":772.39,"b":772.39},
      {"n":20,"k":"s","t":0.74,"d":776.2,"b":776.2},{"n":20,"k":"s","t":0.748,"d":770.7,"b":776.2},{"n":20,"k":"s","t":0.756,"d":776.2,"b":776.2},
      {"n":21,"k":"s","t":0.735,"d":780.01,"b":780.01},{"n":21,"k":"s","t":0.743,"d":774.51,"b":780.01},{"n":21,"k":"s","t":0.751,"d":780.01,"b":780.01},
      {"n":22,"k":"s","t":0.73,"d":783.82,"b":783.82},{"n":22,"k":"s","t":0.738,"d":778.32,"b":783.82},{"n":22,"k":"s","t":0.746,"d":783.82,"b":783.82},
      {"n":23,"k":"s","t":0.725,"d":787.63,"b":787.63},{"n":23,"k":"s","t":0.733,"d":782.63,"b":787.63},{"n":23,"k":"s","t":0.741,"d":787.63,"b":787.63},
      {"n":24,"k":"s","t":0.718,"d":791.44,"b":791.44},{"n":24,"k":"s","t":0.726,"d":786.44,"b":791.44},{"n":24,"k":"s","t":0.734,"d":791.44,"b":791.44},
      {"n":25,"k":"s","t":0.71,"d":795.25,"b":795.25},{"n":25,"k":"s","t":0.718,"d":790.75,"b":795.25},{"n":25,"k":"s","t":0.726,"d":795.25,"b":795.25},
      {"n":26,"k":"s","t":0.701,"d":799.06,"b":799.06},{"n":26,"k":"s","t":0.709,"d":795.06,"b":799.06},{"n":26,"k":"s","t":0.717,"d":799.06,"b":799.06},
      {"n":27,"k":"s","t":0.696,"d":802.87,"b":802.87},{"n":27,"k":"s","t":0.704,"d":799.37,"b":802.87},{"n":27,"k":"s","t":0.711,"d":802.87,"b":802.87},
      {"n":0,"k":"w","t":0.785,"d":700,"b":700},{"n":0,"k":"w","t":0.8,"d":699.1,"b":700},{"n":0,"k":"w","t":0.809,"d":700,"b":700},
      {"n":1,"k":"w","t":0.785,"d":703.81,"b":703.81},{"n":1,"k":"w","t":0.8,"d":702.91,"b":703.81},{"n":1,"k":"w","t":0.809,"d":703.81,"b":703.81},
      {"n":2,"k":"w","t":0.785,"d":707.62,"b":707.62},{"n":2,"k":"w","t":0.8,"d":706.72,"b":707.62},{"n":2,"k":"w","t":0.809,"d":707.62,"b":707.62},
      {"n":3,"k":"w","t":0.785,"d":711.43,"b":711.43},{"n":3,"k":"w","t":0.8,"d":710.53,"b":711.43},{"n":3,"k":"w","t":0.809,"d":711.43,"b":711.43},
      {"n":4,"k":"w","t":0.785,"d":715.24,"b":715.24},{"n":4,"k":"w","t":0.8,"d":714.34,"b":715.24},{"n":4,"k":"w","t":0.809,"d":715.24,"b":715.24},
      {"n":5,"k":"w","t":0.785,"d":719.05,"b":719.05},{"n":5,"k":"w","t":0.8,"d":718.15,"b":719.05},{"n":5,"k":"w","t":0.809,"d":719.05,"b":719.05},
      {"n":6,"k":"w","t":0.785,"d":722.86,"b":722.86},{"n":6,"k":"w","t":0.8,"d":721.96,"b":722.86},{"n":6,"k":"w","t":0.809,"d":722.86,"b":722.86},
      {"n":7,"k":"w","t":0.785,"d":726.67,"b":726.67},{"n":7,"k":"w","t":0.8,"d":725.77,"b":726.67},{"n":7,"k":"w","t":0.809,"d":726.67,"b":726.67},
      {"n":8,"k":"w","t":0.785,"d":730.48,"b":730.48},{"n":8,"k":"w","t":0.8,"d":729.58,"b":730.48},{"n":8,"k":"w","t":0.809,"d":730.48,"b":730.48},
      {"n":9,"k":"w","t":0.785,"d":734.29,"b":734.29},{"n":9,"k":"w","t":0.8,"d":733.39,"b":734.29},{"n":9,"k":"w","t":0.809,"d":734.29,"b":734.29},
      {"n":10,"k":"w","t":0.785,"d":738.1,"b":738.1},{"n":10,"k":"w","t":0.8,"d":737.2,"b":738.1},{"n":10,"k":"w","t":0.809,"d":738.1,"b":738.1},
      {"n":11,"k":"w","t":0.785,"d":741.91,"b":741.91},{"n":11,"k":"w","t":0.8,"d":741.01,"b":741.91},{"n":11,"k":"w","t":0.809,"d":741.91,"b":741.91},
      {"n":12,"k":"w","t":0.785,"d":745.72,"b":745.72},{"n":12,"k":"w","t":0.8,"d":744.82,"b":745.72},{"n":12,"k":"w","t":0.809,"d":745.72,"b":745.72},
      {"n":13,"k":"w","t":0.785,"d":749.53,"b":749.53},{"n":13,"k":"w","t":0.8,"d":748.63,"b":749.53},{"n":13,"k":"w","t":0.809,"d":749.53,"b":749.53},
      {"n":14,"k":"l","t":0.88,"d":753.34,"b":753.34},{"n":14,"k":"l","t":0.895,"d":752.34,"b":753.34},{"n":14,"k":"l","t":0.905,"d":753.34,"b":753.34},
      {"n":15,"k":"l","t":0.88,"d":757.15,"b":757.15},{"n":15,"k":"l","t":0.895,"d":756.15,"b":757.15},{"n":15,"k":"l","t":0.905,"d":757.15,"b":757.15},
      {"n":16,"k":"l","t":0.88,"d":760.96,"b":760.96},{"n":16,"k":"l","t":0.895,"d":759.96,"b":760.96},{"n":16,"k":"l","t":0.905,"d":760.96,"b":760.96},
      {"n":17,"k":"l","t":0.88,"d":764.77,"b":764.77},{"n":17,"k":"l","t":0.895,"d":763.77,"b":764.77},{"n":17,"k":"l","t":0.905,"d":764.77,"b":764.77},
      {"n":18,"k":"l","t":0.88,"d":768.58,"b":768.58},{"n":18,"k":"l","t":0.895,"d":767.58,"b":768.58},{"n":18,"k":"l","t":0.905,"d":768.58,"b":768.58},
      {"n":19,"k":"l","t":0.88,"d":772.39,"b":772.39},{"n":19,"k":"l","t":0.895,"d":771.39,"b":772.39},{"n":19,"k":"l","t":0.905,"d":772.39,"b":772.39},
      {"n":20,"k":"l","t":0.88,"d":776.2,"b":776.2},{"n":20,"k":"l","t":0.895,"d":775.2,"b":776.2},{"n":20,"k":"l","t":0.905,"d":776.2,"b":776.2},
      {"n":21,"k":"l","t":0.88,"d":780.01,"b":780.01},{"n":21,"k":"l","t":0.895,"d":779.01,"b":780.01},{"n":21,"k":"l","t":0.905,"d":780.01,"b":780.01},
      {"n":22,"k":"l","t":0.88,"d":783.82,"b":783.82},{"n":22,"k":"l","t":0.895,"d":782.82,"b":783.82},{"n":22,"k":"l","t":0.905,"d":783.82,"b":783.82},
      {"n":23,"k":"l","t":0.835,"d":787.63,"b":787.63},{"n":23,"k":"l","t":0.845,"d":786.03,"b":787.63},{"n":23,"k":"l","t":0.855,"d":787.63,"b":787.63},
      {"n":24,"k":"l","t":0.835,"d":791.44,"b":791.44},{"n":24,"k":"l","t":0.845,"d":789.84,"b":791.44},{"n":24,"k":"l","t":0.855,"d":791.44,"b":791.44},
      {"n":25,"k":"l","t":0.835,"d":795.25,"b":795.25},{"n":25,"k":"l","t":0.845,"d":793.65,"b":795.25},{"n":25,"k":"l","t":0.855,"d":795.25,"b":795.25},
      {"n":26,"k":"l","t":0.835,"d":799.06,"b":799.06},{"n":26,"k":"l","t":0.845,"d":797.46,"b":799.06},{"n":26,"k":"l","t":0.855,"d":799.06,"b":799.06},
      {"n":27,"k":"l","t":0.835,"d":802.87,"b":802.87},{"n":27,"k":"l","t":0.845,"d":801.27,"b":802.87},{"n":27,"k":"l","t":0.855,"d":802.87,"b":802.87},
      {"n":28,"k":"l","t":0.835,"d":806.68,"b":806.68},{"n":28,"k":"l","t":0.845,"d":805.08,"b":806.68},{"n":28,"k":"l","t":0.855,"d":806.68,"b":806.68},
      {"n":29,"k":"l","t":0.835,"d":810.49,"b":810.49},{"n":29,"k":"l","t":0.845,"d":808.89,"b":810.49},{"n":29,"k":"l","t":0.855,"d":810.49,"b":810.49},
      {"n":30,"k":"l","t":0.835,"d":814.3,"b":814.3},{"n":30,"k":"l","t":0.845,"d":812.7,"b":814.3},{"n":30,"k":"l","t":0.855,"d":814.3,"b":814.3},
      {"n":31,"k":"l","t":0.835,"d":818.11,"b":818.11},{"n":31,"k":"l","t":0.845,"d":816.51,"b":818.11},{"n":31,"k":"l","t":0.855,"d":818.11,"b":818.11},
      {"n":32,"k":"l","t":0.835,"d":821.92,"b":821.92},{"n":32,"k":"l","t":0.845,"d":820.32,"b":821.92},{"n":32,"k":"l","t":0.855,"d":821.92,"b":821.92},
      {"n":33,"k":"l","t":0.841,"d":825.73,"b":825.73},{"n":33,"k":"l","t":0.85,"d":824.43,"b":825.73},{"n":33,"k":"l","t":0.864,"d":825.73,"b":825.73},
      {"n":34,"k":"l","t":0.841,"d":829.54,"b":829.54},{"n":34,"k":"l","t":0.85,"d":828.24,"b":829.54},{"n":34,"k":"l","t":0.864,"d":829.54,"b":829.54},
      {"n":35,"k":"l","t":0.841,"d":833.35,"b":833.35},{"n":35,"k":"l","t":0.85,"d":832.05,"b":833.35},{"n":35,"k":"l","t":0.864,"d":833.35,"b":833.35},
      {"n":36,"k":"l","t":0.841,"d":837.16,"b":837.16},{"n":36,"k":"l","t":0.85,"d":835.86,"b":837.16},{"n":36,"k":"l","t":0.864,"d":837.16,"b":837.16},
      {"n":37,"k":"l","t":0.841,"d":840.97,"b":840.97},{"n":37,"k":"l","t":0.85,"d":839.67,"b":840.97},{"n":37,"k":"l","t":0.864,"d":840.97,"b":840.97},
      {"n":38,"k":"l","t":0.841,"d":844.78,"b":844.78},{"n":38,"k":"l","t":0.85,"d":843.48,"b":844.78},{"n":38,"k":"l","t":0.864,"d":844.78,"b":844.78},
      {"n":39,"k":"l","t":0.841,"d":848.59,"b":848.59},{"n":39,"k":"l","t":0.85,"d":847.29,"b":848.59},{"n":39,"k":"l","t":0.864,"d":848.59,"b":848.59},
      {"n":40,"k":"l","t":0.841,"d":852.4,"b":852.4},{"n":40,"k":"l","t":0.85,"d":851.1,"b":852.4},{"n":40,"k":"l","t":0.864,"d":852.4,"b":852.4},
      {"n":41,"k":"l","t":0.841,"d":856.21,"b":856.21},{"n":41,"k":"l","t":0.85,"d":854.91,"b":856.21},{"n":41,"k":"l","t":0.864,"d":856.21,"b":856.21},
      {"n":42,"k":"l","t":0.841,"d":860.02,"b":860.02},{"n":42,"k":"l","t":0.85,"d":858.72,"b":860.02},{"n":42,"k":"l","t":0.864,"d":860.02,"b":860.02},
      {"n":43,"k":"l","t":0.841,"d":863.83,"b":863.83},{"n":43,"k":"l","t":0.85,"d":862.53,"b":863.83},{"n":43,"k":"l","t":0.864,"d":863.83,"b":863.83},
      {"n":44,"k":"l","t":0.841,"d":867.64,"b":867.64},{"n":44,"k":"l","t":0.85,"d":866.34,"b":867.64},{"n":44,"k":"l","t":0.864,"d":867.64,"b":867.64},
      {"n":45,"k":"l","t":0.841,"d":871.45,"b":871.45},{"n":45,"k":"l","t":0.85,"d":870.15,"b":871.45},{"n":45,"k":"l","t":0.864,"d":871.45,"b":871.45},
      {"n":46,"k":"l","t":0.841,"d":875.26,"b":875.26},{"n":46,"k":"l","t":0.85,"d":873.96,"b":875.26},{"n":46,"k":"l","t":0.864,"d":875.26,"b":875.26},
      {"n":47,"k":"l","t":0.841,"d":879.07,"b":879.07},{"n":47,"k":"l","t":0.85,"d":877.77,"b":879.07},{"n":47,"k":"l","t":0.864,"d":879.07,"b":879.07},
      {"n":48,"k":"l","t":0.841,"d":882.88,"b":882.88},{"n":48,"k":"l","t":0.85,"d":881.58,"b":882.88},{"n":48,"k":"l","t":0.864,"d":882.88,"b":882.88},
      {"n":49,"k":"l","t":0.841,"d":886.69,"b":886.69},{"n":49,"k":"l","t":0.85,"d":885.39,"b":886.69},{"n":49,"k":"l","t":0.864,"d":886.69,"b":886.69}
    ]
  },
  "layer": [
    {
      "data": {"name": "velocity"},
      "mark": {"type": "line", "color": "black", "strokeWidth": 1.8},
      "encoding": {
        "x": {
          "field": "v", "type": "quantitative",
          "scale": {"domain": [0, 4000], "range": [0, 343], "nice": false, "zero": false},
          "axis": {
            "orient": "top", "offset": -6, "domain": false,
            "values": [0,200,400,600,800,1000,1200,1400,1600,1800,2000,2200,2400,2600,2800,3000,3200,3400,3600,3800,4000],
            "format": "d", "labelExpr": "datum.value % 1000 === 0 ? datum.label : ''",
            "tickSize": 12, "tickWidth": {"condition": {"test": "datum.value % 1000 === 0", "value": 3}, "value": 2},
            "labelPadding": 6,
            "title": "Velocity (M/S)", "titleFont": "'DejaVu Sans Condensed', 'Liberation Sans', sans-serif",
            "titleFontSize": 27, "titleFontWeight": "bold", "titleX": 140, "titleY": -64, "titleAlign": "center", "titleBaseline": "alphabetic"
          }
        },
        "y": {
          "field": "z", "type": "quantitative",
          "scale": {"domain": [693, 894.6], "reverse": true, "nice": false, "zero": false},
          "axis": {
            "orient": "left", "offset": -7, "domain": false,
            "values": [695,700,705,710,715,720,725,730,735,740,745,750,755,760,765,770,775,780,785,790,795,800,805,810,815,820,825,830,835,840,845,850,855,860,865,870,875,880,885,890],
            "format": "d", "labelExpr": "datum.value % 25 === 0 ? datum.label : ''",
            "tickSize": 14, "tickWidth": {"condition": {"test": "datum.value % 25 === 0", "value": 3}, "value": 2},
            "labelPadding": 4,
            "title": "Depth (M)", "titleFont": "'Liberation Sans', Arial, sans-serif", "titleFontSize": 46, "titleFontWeight": "bold",
            "titleAngle": 270, "titleX": -95, "titleY": 360, "titleAlign": "center", "titleBaseline": "middle"
          }
        },
        "detail": {"field": "c"},
        "order": {"field": "i"}
      }
    },
    {
      "data": {"values": [{"v": 4000}]},
      "mark": {"type": "rule", "color": "black", "strokeWidth": 3},
      "encoding": {
        "x": {
          "field": "v", "type": "quantitative",
          "scale": {"domain": [0, 4000], "range": [0, 343], "nice": false, "zero": false},
          "axis": {
            "orient": "bottom", "offset": -6, "domain": false,
            "values": [0,200,400,600,800,1000,1200,1400,1600,1800,2000,2200,2400,2600,2800,3000,3200,3400,3600,3800,4000],
            "format": "d", "labelExpr": "datum.value % 1000 === 0 ? datum.label : ''",
            "tickSize": 12, "tickWidth": {"condition": {"test": "datum.value % 1000 === 0", "value": 3}, "value": 2},
            "labelPadding": 14, "title": null
          }
        }
      }
    },
    {
      "data": {"name": "azimuth"},
      "mark": {"type": "line", "color": "black", "strokeWidth": 2},
      "encoding": {
        "x": {
          "field": "a", "type": "quantitative",
          "scale": {"domain": [-160.5, 166.8], "range": [343, 685], "nice": false, "zero": false},
          "axis": {
            "orient": "top", "offset": -6, "domain": false,
            "values": [-160,-140,-120,-100,-80,-60,-40,-20,0,20,40,60,80,100,120,140,160],
            "format": "d", "labelExpr": "datum.value % 100 === 0 ? datum.label : ''",
            "tickSize": 12, "tickWidth": {"condition": {"test": "datum.value % 100 === 0", "value": 3}, "value": 2},
            "labelPadding": 6,
            "title": "Azimuth (deg)", "titleFont": "'DejaVu Sans Condensed', 'Liberation Sans', sans-serif",
            "titleFontSize": 26, "titleFontWeight": "bold", "titleX": 510, "titleY": -69, "titleAlign": "center", "titleBaseline": "alphabetic"
          }
        },
        "y": {
          "field": "z", "type": "quantitative",
          "scale": {"domain": [693, 894.6], "reverse": true, "nice": false, "zero": false},
          "axis": {
            "orient": "left", "offset": -350, "domain": false, "labels": false, "title": null,
            "values": [695,700,705,710,715,720,725,730,735,740,745,750,755,760,765,770,775,780,785,790,795,800,805,810,815,820,825,830,835,840,845,850,855,860,865,870,875,880,885,890],
            "tickSize": 14, "tickWidth": {"condition": {"test": "datum.value % 25 === 0", "value": 3}, "value": 2}
          }
        },
        "order": {"field": "i"}
      }
    },
    {
      "data": {"values": [{"a": 166.8}]},
      "mark": {"type": "rule", "color": "black", "strokeWidth": 3},
      "encoding": {
        "x": {
          "field": "a", "type": "quantitative",
          "scale": {"domain": [-160.5, 166.8], "range": [343, 685], "nice": false, "zero": false},
          "axis": {
            "orient": "bottom", "offset": -6, "domain": false,
            "values": [-160,-140,-120,-100,-80,-60,-40,-20,0,20,40,60,80,100,120,140,160],
            "format": "d", "labelExpr": "datum.value % 100 === 0 ? datum.label : ''",
            "tickSize": 12, "tickWidth": {"condition": {"test": "datum.value % 100 === 0", "value": 3}, "value": 2},
            "labelPadding": 14, "title": null
          }
        }
      }
    },
    {
      "data": {"values": [{"t": 0.2}, {"t": 0.4}, {"t": 0.6}, {"t": 0.8}]},
      "mark": {"type": "rule", "color": "black", "strokeWidth": 1.6},
      "encoding": {
        "x": {
          "field": "t", "type": "quantitative",
          "scale": {"domain": [0, 1], "range": [685, 1030], "nice": false, "zero": false},
          "axis": {
            "orient": "bottom", "offset": -6, "domain": false,
            "values": [0,0.05,0.1,0.15,0.2,0.25,0.3,0.35,0.4,0.45,0.5,0.55,0.6,0.65,0.7,0.75,0.8,0.85,0.9,0.95,1],
            "labelExpr": "datum.value === 0 ? '0.0' : datum.value === 0.25 ? '0.25' : datum.value === 0.5 ? '0.5' : datum.value === 0.75 ? '0.75' : datum.value === 1 ? '1.0' : ''",
            "tickSize": 12, "tickWidth": {"condition": {"test": "indexof([0,0.2,0.4,0.6,0.8,1], datum.value) >= 0", "value": 3}, "value": 2},
            "labelPadding": 14, "title": null
          }
        }
      }
    },
    {
      "data": {"name": "lobes"},
      "mark": {"type": "area", "color": "black", "interpolate": "linear"},
      "encoding": {
        "x": {
          "field": "t", "type": "quantitative",
          "scale": {"domain": [0, 1], "range": [685, 1030], "nice": false, "zero": false},
          "axis": null
        },
        "y": {
          "field": "d", "type": "quantitative",
          "scale": {"domain": [693, 894.6], "reverse": true, "nice": false, "zero": false},
          "axis": {
            "orient": "left", "offset": -692, "domain": false, "labels": false, "title": null,
            "values": [695,700,705,710,715,720,725,730,735,740,745,750,755,760,765,770,775,780,785,790,795,800,805,810,815,820,825,830,835,840,845,850,855,860,865,870,875,880,885,890],
            "tickSize": 14, "tickWidth": {"condition": {"test": "datum.value % 25 === 0", "value": 3}, "value": 2}
          }
        },
        "y2": {"field": "b"},
        "detail": [{"field": "n"}, {"field": "k"}]
      }
    },
    {
      "data": {"name": "traces"},
      "mark": {"type": "line", "color": "black", "strokeWidth": 1.1},
      "encoding": {
        "x": {
          "field": "t", "type": "quantitative",
          "scale": {"domain": [0, 1], "range": [685, 1030], "nice": false, "zero": false},
          "axis": {
            "orient": "top", "offset": -6, "domain": false,
            "values": [0,0.05,0.1,0.15,0.2,0.25,0.3,0.35,0.4,0.45,0.5,0.55,0.6,0.65,0.7,0.75,0.8,0.85,0.9,0.95,1],
            "labelExpr": "datum.value === 0 ? '0.0' : datum.value === 0.25 ? '0.25' : datum.value === 0.5 ? '0.5' : datum.value === 0.75 ? '0.75' : datum.value === 1 ? '1.0' : ''",
            "tickSize": 12, "tickWidth": {"condition": {"test": "indexof([0,0.2,0.4,0.6,0.8,1], datum.value) >= 0", "value": 3}, "value": 2},
            "labelPadding": 6,
            "title": "Waveform", "titleFont": "'DejaVu Sans Condensed', 'Liberation Sans', sans-serif",
            "titleFontSize": 33, "titleFontWeight": "bold", "titleX": 845, "titleY": -74, "titleAlign": "center", "titleBaseline": "alphabetic"
          }
        },
        "y": {
          "field": "d", "type": "quantitative",
          "scale": {"domain": [693, 894.6], "reverse": true, "nice": false, "zero": false},
          "axis": {
            "orient": "right", "offset": -7, "domain": false,
            "values": [695,700,705,710,715,720,725,730,735,740,745,750,755,760,765,770,775,780,785,790,795,800,805,810,815,820,825,830,835,840,845,850,855,860,865,870,875,880,885,890],
            "format": "d", "labelExpr": "datum.value % 25 === 0 ? datum.label : ''",
            "tickSize": 14, "tickWidth": {"condition": {"test": "datum.value % 25 === 0", "value": 3}, "value": 2},
            "labelPadding": 6, "title": null
          }
        },
        "detail": {"field": "n"}
      }
    }
  ],
  "resolve": {
    "scale": {"x": "independent"},
    "axis": {"x": "independent", "y": "independent"}
  }
}
